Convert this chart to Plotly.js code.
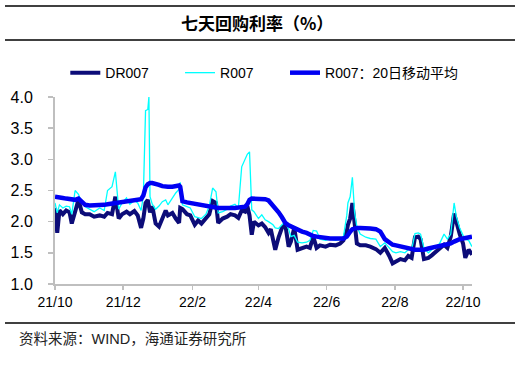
<!DOCTYPE html>
<html><head><meta charset="utf-8">
<script src="https://cdn.plot.ly/plotly-3.0.1.min.js"></script>
<style>html,body{margin:0;padding:0;background:#fff;} #chart{width:521px;height:366px;}</style>
</head><body><div id="chart"></div>
<script>
const dates = ['2021-10-01','2021-10-03','2021-10-05','2021-10-08','2021-10-11','2021-10-14','2021-10-16','2021-10-19','2021-10-22','2021-10-25','2021-10-28',
'2021-11-01','2021-11-05','2021-11-10','2021-11-14','2021-11-17','2021-11-21','2021-11-24','2021-11-27','2021-11-30',
'2021-12-04','2021-12-07','2021-12-11','2021-12-14','2021-12-17','2021-12-19','2021-12-21','2021-12-23','2021-12-24','2021-12-25','2021-12-27','2021-12-30',
'2022-01-02','2022-01-05','2022-01-08','2022-01-10','2022-01-14','2022-01-17','2022-01-20','2022-01-21','2022-01-23','2022-01-27','2022-01-30',
'2022-02-03','2022-02-06','2022-02-09','2022-02-13','2022-02-16','2022-02-19','2022-02-22','2022-02-24','2022-02-28',
'2022-03-04','2022-03-07','2022-03-11','2022-03-14','2022-03-17','2022-03-20','2022-03-22','2022-03-24','2022-03-26','2022-03-28',
'2022-04-01','2022-04-04','2022-04-07','2022-04-10','2022-04-12','2022-04-14','2022-04-16','2022-04-19','2022-04-22','2022-04-25','2022-04-28','2022-04-30',
'2022-05-03','2022-05-06','2022-05-10','2022-05-14','2022-05-17','2022-05-20','2022-05-23','2022-05-26','2022-05-31',
'2022-06-04','2022-06-09','2022-06-13','2022-06-16','2022-06-19','2022-06-20','2022-06-22','2022-06-24','2022-06-26','2022-06-28',
'2022-07-01','2022-07-06','2022-07-10','2022-07-15','2022-07-19','2022-07-23','2022-07-27','2022-07-30',
'2022-08-02','2022-08-06','2022-08-10','2022-08-13','2022-08-16','2022-08-19','2022-08-22','2022-08-24','2022-08-27','2022-08-31',
'2022-09-03','2022-09-07','2022-09-10','2022-09-14','2022-09-17','2022-09-20','2022-09-23','2022-09-25','2022-09-28',
'2022-10-01','2022-10-03','2022-10-06','2022-10-09'];

const dr007 = [2.22,1.82,2.18,2.12,2.18,2.15,1.97,2.15,2.35,2.15,2.12,
2.12,2.08,2.10,2.08,2.14,2.12,2.40,2.05,2.12,
2.16,2.12,2.17,2.10,1.90,2.05,2.30,2.35,2.20,2.15,2.25,1.97,
1.92,2.05,2.18,2.10,2.14,2.05,1.98,2.22,2.20,2.12,2.10,
1.95,2.02,1.97,2.05,2.12,2.33,2.30,1.98,2.05,
2.08,2.12,2.10,2.06,2.18,2.16,2.25,2.10,1.79,2.00,
1.94,1.97,1.91,1.82,1.88,1.74,1.55,1.75,1.90,1.95,1.60,1.68,
1.90,1.55,1.58,1.60,1.58,1.76,1.58,1.62,1.60,
1.63,1.62,1.65,1.70,1.85,1.95,2.05,2.30,1.90,1.65,
1.62,1.62,1.60,1.56,1.50,1.58,1.45,1.33,
1.36,1.40,1.38,1.45,1.42,1.75,1.76,1.72,1.40,1.42,
1.46,1.52,1.55,1.63,1.58,1.76,2.13,1.97,1.80,
1.65,1.42,1.55,1.47];

const r007 = [2.30,2.14,2.27,2.22,2.25,2.24,2.12,2.50,2.44,2.30,2.24,
2.20,2.16,2.22,2.18,2.50,2.56,2.80,2.20,2.30,
2.38,2.28,2.34,2.30,2.18,2.40,3.78,3.80,4.00,2.40,2.28,2.20,
2.25,2.32,2.35,2.27,2.38,2.46,2.52,2.63,2.27,2.24,2.22,
2.08,2.06,2.05,2.12,2.25,2.54,2.48,2.14,2.16,
2.20,2.25,2.28,2.22,2.88,3.00,3.08,3.12,2.19,2.16,
2.05,2.11,2.03,2.00,1.97,1.95,1.90,1.89,1.95,2.00,1.88,1.76,
1.78,1.67,1.66,1.67,1.70,1.86,1.85,1.72,1.70,
1.72,1.70,1.72,1.76,2.10,2.30,2.40,2.71,2.15,1.92,
1.80,1.75,1.73,1.72,1.60,1.66,1.58,1.52,
1.50,1.52,1.50,1.55,1.55,1.81,1.82,1.80,1.58,1.50,
1.55,1.60,1.65,1.80,1.72,1.80,2.30,2.08,1.90,
1.78,1.72,1.70,1.60];

const r007ma20 = [2.40,2.39,2.38,2.38,2.37,2.36,2.35,2.35,2.37,2.33,2.27,
2.26,2.26,2.27,2.27,2.28,2.29,2.29,2.30,2.30,
2.32,2.33,2.34,2.35,2.36,2.42,2.55,2.60,2.62,2.62,2.62,2.61,
2.59,2.57,2.56,2.56,2.56,2.57,2.58,2.56,2.33,2.31,2.30,
2.29,2.28,2.27,2.25,2.24,2.23,2.23,2.22,2.22,
2.21,2.22,2.22,2.23,2.23,2.24,2.28,2.35,2.37,2.37,
2.37,2.37,2.36,2.34,2.30,2.27,2.22,2.15,2.07,1.98,1.94,1.92,
1.90,1.87,1.84,1.82,1.79,1.77,1.76,1.75,1.74,
1.73,1.73,1.73,1.73,1.76,1.80,1.84,1.88,1.90,1.90,
1.90,1.90,1.89,1.88,1.84,1.72,1.66,1.63,
1.62,1.60,1.58,1.57,1.56,1.55,1.55,1.55,1.55,1.57,
1.59,1.60,1.61,1.62,1.64,1.65,1.68,1.70,1.72,
1.73,1.74,1.75,1.76];

const tickDates = ['2021-10-01','2021-12-01','2022-02-01','2022-04-01','2022-06-01','2022-08-01','2022-10-01'];
const tickLabels = ['21/10','21/12','22/2','22/4','22/6','22/8','22/10'];
const seriesNames = ['DR007','R007','R007：20日移动平均'];
const titleText = '七天回购利率（%）';
const sourceText = '资料来源：WIND，海通证券研究所';

const font = 'Liberation Sans, Arial, sans-serif';
const cjk = 'Liberation Sans, Noto Sans CJK SC, sans-serif';

const traces = [
  {x: dates, y: dr007, name: seriesNames[0], type: 'scatter', mode: 'lines', line: {color: '#0C0C78', width: 4}, legend: 'legend'},
  {x: dates, y: r007, name: seriesNames[1], type: 'scatter', mode: 'lines', line: {color: '#00FFFF', width: 1.3}, legend: 'legend2'},
  {x: dates, y: r007ma20, name: seriesNames[2], type: 'scatter', mode: 'lines', line: {color: '#0000F2', width: 4.5}, legend: 'legend3'}
];

function leg(x) {
  return {orientation: 'h', x: x, y: 1.128, xanchor: 'left', yanchor: 'middle',
          font: {family: cjk, size: 14, color: '#000'}, bgcolor: 'rgba(0,0,0,0)'};
}

const layout = {
  width: 521, height: 366,
  margin: {l: 55, r: 49, t: 97, b: 82},
  paper_bgcolor: '#fff', plot_bgcolor: '#fff',
  showlegend: true,
  legend: leg(0.0247),
  legend2: leg(0.2998),
  legend3: leg(0.5516),
  xaxis: {type: 'date', range: ['2021-10-01', '2022-10-09'], tickvals: tickDates, ticktext: tickLabels,
          showline: true, linecolor: '#BFBFBF', linewidth: 2, ticks: 'outside', ticklen: 4, tickwidth: 1.5, tickcolor: '#BFBFBF',
          showgrid: false, zeroline: false, tickfont: {family: font, size: 14, color: '#000'}, fixedrange: true},
  yaxis: {range: [1, 4], dtick: 0.5, tick0: 1, tickformat: '.1f',
          showline: true, linecolor: '#BFBFBF', linewidth: 2, ticks: 'outside', ticklen: 5, tickwidth: 1.5, tickcolor: '#BFBFBF',
          showgrid: false, zeroline: false, tickfont: {family: font, size: 16, color: '#000'}, ticklabelstandoff: 12, fixedrange: true},
  shapes: [
    {type: 'line', xref: 'paper', yref: 'paper', x0: -0.1199, x1: 1.1031, y0: 1.4866, y1: 1.4866, line: {color: '#000', width: 1.3}},
    {type: 'line', xref: 'paper', yref: 'paper', x0: -0.1199, x1: 1.1031, y0: 1.3048, y1: 1.3048, line: {color: '#000', width: 1.3}},
    {type: 'line', xref: 'paper', yref: 'paper', x0: -0.1199, x1: 1.1031, y0: -0.2086, y1: -0.2086, line: {color: '#000', width: 1.3}}
  ],
  annotations: [
    {text: '<b>' + titleText + '</b>', xref: 'paper', yref: 'paper', x: 0.485, y: 1.396, xanchor: 'center', yanchor: 'middle',
     showarrow: false, font: {family: 'Noto Sans CJK SC, sans-serif', size: 17, color: '#000'}},
    {text: sourceText, xref: 'paper', yref: 'paper', x: -0.0911, y: -0.294, xanchor: 'left', yanchor: 'middle',
     showarrow: false, font: {family: cjk, size: 14.5, color: '#222'}}
  ]
};

Plotly.newPlot('chart', traces, layout, {displayModeBar: false, staticPlot: true});
</script>
</body></html>
